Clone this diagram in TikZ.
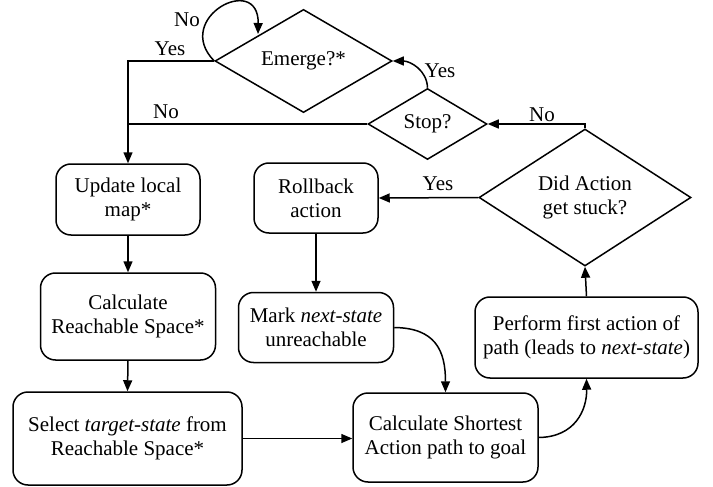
\documentclass[tikz,border=0pt]{standalone}
\usepackage{fontspec}
\setmainfont{Liberation Serif}
\usetikzlibrary{shapes.geometric,arrows.meta}
\begin{document}
\begin{tikzpicture}[x=1pt,y=-1pt,
  txt/.style={font=\fontsize{21}{24}\selectfont},
  box/.style={txt, draw, line width=1.5pt, rounded corners=15pt, align=center, inner sep=0pt},
  dec/.style={txt, draw, diamond, line width=1.5pt, align=center, inner sep=0pt},
  lbl/.style={txt, inner sep=0pt},
  ln/.style={line width=1.5pt},
  arr/.style={line width=1.5pt, -{Triangle[length=11pt,width=9pt]}}]
\useasboundingbox (0,0) rectangle (713,487);

% decisions
\node[dec, minimum width=177pt, minimum height=82pt] (emg) at (303.5,61) {Emerge?*};
\node[dec, minimum width=119pt, minimum height=71pt] (stp) at (427.5,124) {Stop?};
\node[dec, minimum width=212pt, minimum height=109pt] (did) at (585,197.5) {Did Action\\get stuck?};

% boxes
\node[box, minimum width=144pt, minimum height=71pt] (upd) at (128,199.5) {Update local\\map*};
\node[box, minimum width=175pt, minimum height=87pt] (rch) at (128,316.5) {Calculate\\Reachable Space*};
\node[box, minimum width=229pt, minimum height=93pt] (sel) at (127.5,438.5) {Select \textit{target-state} from\\Reachable Space*};
\node[box, minimum width=124pt, minimum height=70pt] (rlb) at (316,198) {Rollback\\action};
\node[box, minimum width=155pt, minimum height=70pt] (mrk) at (316,327.5) {Mark \textit{next-state}\\unreachable};
\node[box, minimum width=185pt, minimum height=89pt] (sht) at (445.5,437.5) {Calculate Shortest\\Action path to goal};
\node[box, minimum width=223pt, minimum height=81pt] (prf) at (586.5,337.5) {Perform first action of\\path (leads to \textit{next-state})};

\coordinate (loopend) at (258,34);

% connectors
\draw[arr] (emg.west) -| (upd.north);
\draw[ln] (stp.west) -- (stp.west -| upd.north);
\draw[arr] (emg.west) .. controls (172,18) and (259,-28) .. (loopend);
\draw[arr] (stp.north) .. controls (427,70) and (410,61) .. (emg.east);
\draw[arr] (did.north) |- (stp.east);
\draw[arr] (did.west) -- (rlb.east);
\draw[arr] (prf.north) -- (did.south);
\draw[arr] (upd.south) -- (rch.north);
\draw[arr] (rch.south) -- (sel.north);
\draw[arr] (rlb.south) -- (mrk.north);
\draw[arr] (mrk.east) .. controls (435,328) and (445.5,350) .. (sht.north);
\draw[arr] (sht.east) .. controls (575,437) and (587,410) .. (prf.south);
\draw[arr] (sel.east) -- (sel.east -| sht.west);

% labels
\node[lbl] (l1) at (170,49) {Yes};
\node[lbl] (l2) at (166,112) {No};
\node[lbl] (l3) at (187,20) {No};
\node[lbl] (l4) at (440,71) {Yes};
\node[lbl] (l5) at (542,115) {No};
\node[lbl] (l6) at (438,184) {Yes};
\end{tikzpicture}
\end{document}
